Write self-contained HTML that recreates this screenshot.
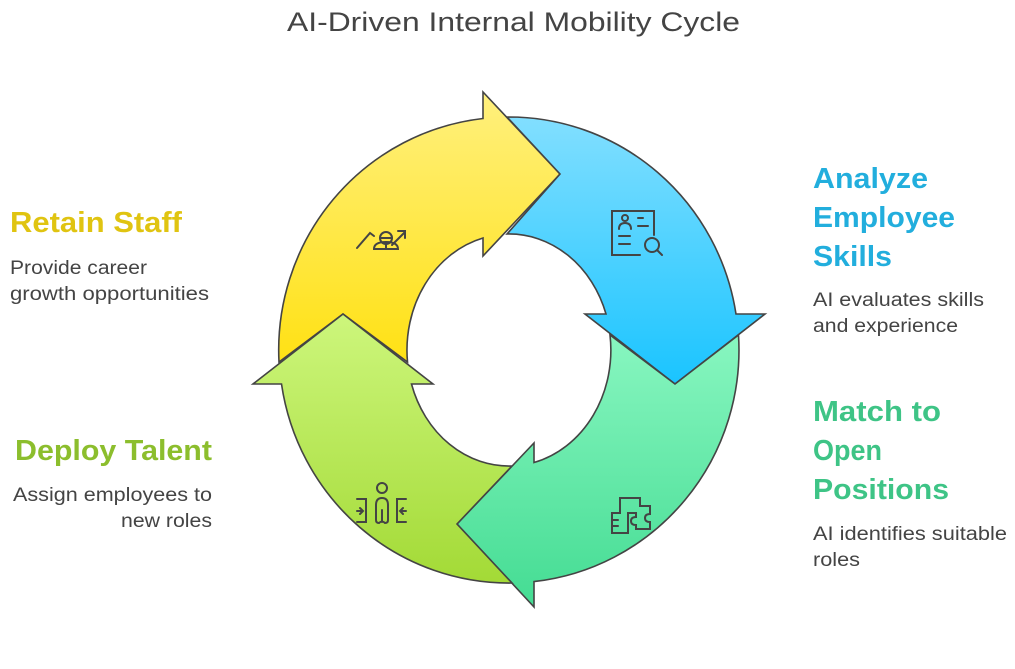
<!DOCTYPE html>
<html><head><meta charset="utf-8"><style>html,body{margin:0;padding:0;background:#fff;width:1015px;height:669px;overflow:hidden}</style></head>
<body>
<svg width="1015" height="669" viewBox="0 0 1015 669" xmlns="http://www.w3.org/2000/svg" font-family="Liberation Sans, sans-serif">
<defs>
<linearGradient id="gy" x1="0" y1="0" x2="0" y2="1"><stop offset="0" stop-color="#FFF07E"/><stop offset="1" stop-color="#FFE114"/></linearGradient>
<linearGradient id="gb" x1="0" y1="0" x2="0" y2="1"><stop offset="0" stop-color="#82DFFF"/><stop offset="1" stop-color="#1AC4FF"/></linearGradient>
<linearGradient id="gg" x1="0" y1="0" x2="0" y2="1"><stop offset="0" stop-color="#88F6C0"/><stop offset="1" stop-color="#44DC93"/></linearGradient>
<linearGradient id="gl" x1="0" y1="0" x2="0" y2="1"><stop offset="0" stop-color="#CDF67C"/><stop offset="1" stop-color="#A3DA36"/></linearGradient>
</defs>
<text x="287" y="31" textLength="453" lengthAdjust="spacingAndGlyphs" font-size="27" fill="#444">AI-Driven Internal Mobility Cycle</text>
<g stroke="#444" stroke-width="1.6" stroke-linejoin="miter">
<path fill="url(#gy)" d="M279,362 A230,233 0 0 1 483,118.5 L483,92 L560,174 L483,256 L483,238 A102,116 0 0 0 407.5,362 L343,314 Z"/>
<path fill="url(#gb)" d="M507,117 A230,233 0 0 1 736,314 L765,314 L675,384 L585,314 L606,314 A102,116 0 0 0 507,234 L560,174 Z"/>
<path fill="url(#gg)" d="M738.5,335 A230,233 0 0 1 534,581.6 L534,607 L457,524 L534,443 L534,462.5 A102,116 0 0 0 610,335 L675,384 Z"/>
<path fill="url(#gl)" d="M512,583 A230,233 0 0 1 281.5,384 L253,384 L343,314 L433,384 L411.5,384 A102,116 0 0 0 512,466 L457,524 Z"/>
</g>
<g fill="none" stroke="#444" stroke-width="2" stroke-linecap="round">
<path d="M357,248 L370,233 L374,236"/><circle cx="386" cy="238" r="6"/><path d="M380,238 H392"/><path d="M374,249 Q374,242 386,242 Q398,242 398,249 Z M386,244 V249"/><path d="M392,245 L405,232 M398,231 H405 V238"/>
<path d="M640,255 H612 V211 H654 V235"/><circle cx="625" cy="218" r="3"/><path d="M619,229 Q619,223 625,223 Q631,223 631,229"/><path d="M638,218 H643 M638,226 H648 M619,236 H630 M619,244 H630"/><circle cx="652" cy="245" r="7"/><path d="M657,250 L662,255"/>
<path d="M620,498 H640 V506 H650 V514 Q645,514 645,518 Q645,522 650,522 V529 H636 V525 Q631,525 631,521 Q631,517 636,517 V513 H628 V533 H612 V513 H620 Z"/><path d="M612,520 H618 M612,526 H618"/>
<circle cx="382" cy="488" r="5"/><path d="M376,520 V505 Q376,498 382,498 Q388,498 388,505 V520 Q388,523 385,523 V523 Q382,520 379,523 Q376,523 376,520 M382,510 V522"/><path d="M357,499 H366 V522 H357 M357,511 H363 M360,508 L363,511 L360,514"/><path d="M406,499 H397 V522 H406 M406,511 H400 M403,508 L400,511 L403,514"/>
</g>
<g font-weight="bold" font-size="29" lengthAdjust="spacingAndGlyphs">
<text x="10" y="232" textLength="172" lengthAdjust="spacingAndGlyphs" fill="#E0C411">Retain Staff</text>
<text x="813" y="188" textLength="115" lengthAdjust="spacingAndGlyphs" fill="#22AEDD">Analyze</text>
<text x="813" y="227" textLength="142" lengthAdjust="spacingAndGlyphs" fill="#22AEDD">Employee</text>
<text x="813" y="266" textLength="79" lengthAdjust="spacingAndGlyphs" fill="#22AEDD">Skills</text>
<text x="15" y="460" textLength="197" lengthAdjust="spacingAndGlyphs" fill="#8CBE2D">Deploy Talent</text>
<text x="813" y="421" textLength="128" lengthAdjust="spacingAndGlyphs" fill="#3EC486">Match to</text>
<text x="813" y="460" textLength="69" lengthAdjust="spacingAndGlyphs" fill="#3EC486">Open</text>
<text x="813" y="499" textLength="136" lengthAdjust="spacingAndGlyphs" fill="#3EC486">Positions</text>
</g>
<g font-size="19" fill="#444">
<text x="10" y="274" textLength="137" lengthAdjust="spacingAndGlyphs">Provide career</text>
<text x="10" y="300" textLength="199" lengthAdjust="spacingAndGlyphs">growth opportunities</text>
<text x="813" y="306" textLength="171" lengthAdjust="spacingAndGlyphs">AI evaluates skills</text>
<text x="813" y="332" textLength="145" lengthAdjust="spacingAndGlyphs">and experience</text>
<text x="13" y="501" textLength="199" lengthAdjust="spacingAndGlyphs">Assign employees to</text>
<text x="121" y="527" textLength="91" lengthAdjust="spacingAndGlyphs">new roles</text>
<text x="813" y="540" textLength="194" lengthAdjust="spacingAndGlyphs">AI identifies suitable</text>
<text x="813" y="566" textLength="47" lengthAdjust="spacingAndGlyphs">roles</text>
</g>
</svg>
</body></html>
